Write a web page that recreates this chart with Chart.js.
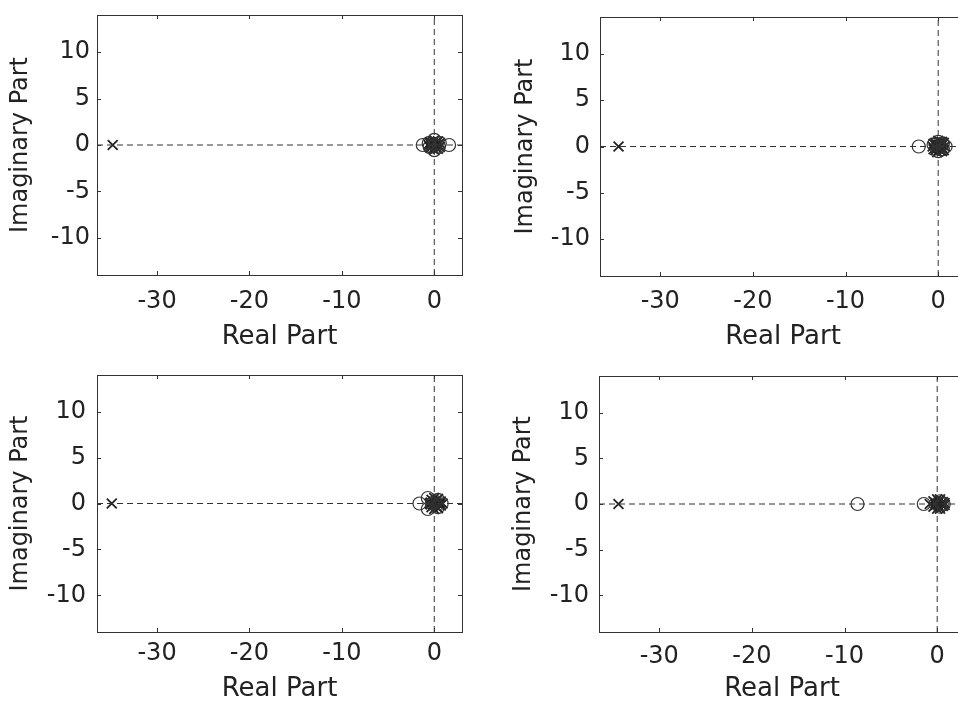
<!DOCTYPE html>
<html>
<head>
<meta charset="utf-8">
<script src="https://cdn.jsdelivr.net/npm/chart.js@4.4.0/dist/chart.umd.min.js"></script>
<style>
  html, body { margin: 0; padding: 0; background: #fff; overflow: hidden; width: 958px; height: 705px; }
  canvas { position: absolute; }
</style>
</head>
<body>
<canvas id="pz1" width="480" height="355" style="left:0;top:0"></canvas>
<canvas id="pz2" width="490" height="355" style="left:500px;top:0"></canvas>
<canvas id="pz3" width="480" height="345" style="left:0;top:360px"></canvas>
<canvas id="pz4" width="490" height="345" style="left:500px;top:360px"></canvas>
<script>
// axis limits and tick labels shared by every map
const realMin = -36.5, realMax = 3;
const imagMin = -14, imagMax = 14;
const realTicks = [-30, -20, -10, 0];
const imagTicks = [-10, -5, 0, 5, 10];

// poles (x) and zeros (o) as [real, imag]
const poles1 = [[-34.8, 0], [-0.6, 0], [-0.4, 0.3], [-0.4, -0.3], [-0.2, 0], [0, 0], [0.2, 0.3], [0.2, -0.3],
  [0.4, 0], [0.6, 0.2], [0.6, -0.2], [0, 0.5], [0, -0.5], [-0.2, 0.2], [0.3, 0], [-0.3, 0.1], [-0.3, -0.1],
  [0.1, 0.15], [0.1, -0.15], [-0.1, 0.4], [-0.1, -0.4], [0.4, 0.4], [0.4, -0.4], [-0.5, 0.2], [-0.5, -0.2]];
const zeros1 = [[-1.25, 0], [1.6, 0], [0, 0.55], [0, -0.55], [-0.6, 0.2], [0.6, 0.2], [-0.5, -0.2], [0.5, -0.2], [0.1, 0]];

const poles2 = [[-34.5, 0], [-0.6, 0], [-0.3, 0.4], [-0.3, -0.4], [0, 0], [0.2, 0.5], [0.2, -0.4], [0.5, 0.2],
  [0.5, -0.2], [0.7, 0], [0, 0.6], [-0.1, -0.6], [0.3, 0], [-0.2, 0.1], [-0.2, -0.1], [0.1, 0.2], [0.1, -0.2],
  [0.4, 0.5], [0.4, -0.5], [0.6, 0.4], [0.6, -0.4], [-0.5, 0.3], [-0.5, -0.3]];
const zeros2 = [[-2.1, 0], [-0.5, 0.2], [0, 0.5], [0, -0.5], [0.5, 0.3], [0.5, -0.3], [0.2, 0], [0.8, 0]];

const poles3 = [[-34.9, 0], [-0.5, 0], [-0.3, 0.4], [-0.3, -0.4], [0, 0], [0.2, 0.3], [0.2, -0.3], [0.5, 0],
  [0.7, 0.2], [0.7, -0.2], [0, 0.6], [0, -0.6], [0.3, 0], [-0.1, 0.2], [-0.1, -0.2], [0.4, 0.5], [0.4, -0.5],
  [0.9, 0], [0.6, 0.1], [0.6, -0.1], [-0.4, 0.1], [-0.4, -0.1]];
const zeros3 = [[-1.6, 0], [-0.7, 0.6], [-0.7, -0.6], [0.8, 0], [0.4, 0.4], [0.4, -0.4], [-0.2, 0], [0.1, 0.2]];

const poles4 = [[-34.4, 0], [-0.8, 0], [-0.4, 0.3], [-0.4, -0.3], [0, 0], [0.2, 0.3], [0.2, -0.3], [0.4, 0],
  [0.6, 0.2], [0.6, -0.2], [0, 0.5], [0, -0.5], [-0.2, 0.1], [-0.2, -0.1], [0.3, 0.5], [0.3, -0.5],
  [0.8, 0.1], [0.8, -0.1], [0.1, 0.1], [0.1, -0.1]];
const zeros4 = [[-8.6, 0], [-1.45, 0], [0.5, 0], [0.3, 0.3], [0.3, -0.3], [0.7, 0]];

const ink = '#222';
const font = 'DejaVu Sans';

// frame round the plot area with small inward tick marks on all four sides
const boxPlugin = {
  id: 'box',
  afterDatasetsDraw(chart) {
    const { ctx, chartArea: a, scales } = chart;
    ctx.save();
    ctx.strokeStyle = '#333';
    ctx.lineWidth = 1;
    ctx.strokeRect(a.left + 0.5, a.top + 0.5, a.right - a.left, a.bottom - a.top);
    ctx.beginPath();
    realTicks.forEach(v => {
      const px = Math.round(scales.x.getPixelForValue(v)) + 0.5;
      ctx.moveTo(px, a.top); ctx.lineTo(px, a.top + 4);
      ctx.moveTo(px, a.bottom); ctx.lineTo(px, a.bottom - 4);
    });
    imagTicks.forEach(v => {
      const py = Math.round(scales.y.getPixelForValue(v)) + 0.5;
      ctx.moveTo(a.left, py); ctx.lineTo(a.left + 4, py);
      ctx.moveTo(a.right, py); ctx.lineTo(a.right - 4, py);
    });
    ctx.stroke();
    ctx.restore();
  }
};

function toPoints(list) {
  return list.map(p => ({ x: p[0], y: p[1] }));
}

function pzmap(id, poles, zeros, g) {
  new Chart(document.getElementById(id), {
    type: 'scatter',
    data: {
      datasets: [
        {
          type: 'line',
          data: [{ x: realMin, y: 0 }, { x: realMax, y: 0 }],
          borderColor: '#333', borderWidth: 1, borderDash: [6, 4], pointRadius: 0
        },
        {
          type: 'line',
          data: [{ x: 0, y: imagMin }, { x: 0, y: imagMax }],
          borderColor: '#333', borderWidth: 1, borderDash: [6, 4], pointRadius: 0
        },
        {
          data: toPoints(zeros),
          pointStyle: 'circle', pointRadius: 6.5,
          borderColor: '#333', borderWidth: 1.2, backgroundColor: 'rgba(0,0,0,0)'
        },
        {
          data: toPoints(poles),
          pointStyle: 'crossRot', pointRadius: 7,
          borderColor: ink, borderWidth: 1.8
        }
      ]
    },
    options: {
      responsive: false,
      animation: false,
      devicePixelRatio: 1,
      layout: { padding: { left: 0, top: g.top, right: g.right, bottom: 0 } },
      plugins: { legend: { display: false }, tooltip: { enabled: false } },
      scales: {
        x: {
          type: 'linear', min: realMin, max: realMax,
          afterBuildTicks: s => { s.ticks = realTicks.map(v => ({ value: v })); },
          afterFit: s => { s.height = g.xh; s.paddingLeft = 0; s.paddingRight = 0; },
          grid: { display: false, drawTicks: false },
          border: { display: false },
          ticks: { color: ink, font: { family: font, size: 24 }, padding: g.xpad, autoSkip: false, maxRotation: 0 },
          title: { display: true, text: 'Real Part', color: ink, font: { family: font, size: 26 }, padding: { top: 0, bottom: g.xtpad } }
        },
        y: {
          type: 'linear', min: imagMin, max: imagMax,
          afterBuildTicks: s => { s.ticks = imagTicks.map(v => ({ value: v })); },
          afterFit: s => { s.width = g.yw; s.paddingTop = 0; s.paddingBottom = 0; },
          grid: { display: false, drawTicks: false },
          border: { display: false },
          ticks: { color: ink, font: { family: font, size: 24 }, padding: g.ypad, autoSkip: false },
          title: { display: true, text: 'Imaginary Part', color: ink, font: { family: font, size: 24 }, padding: { top: g.ytpad, bottom: 0 } }
        }
      }
    },
    plugins: [boxPlugin]
  });
}

pzmap('pz1', poles1, zeros1, { top: 15, right: 18, xh: 80, yw: 97, xpad: 12, xtpad: 2, ypad: 7, ytpad: 6 });
pzmap('pz2', poles2, zeros2, { top: 17, right: 24, xh: 79, yw: 100, xpad: 11, xtpad: 2, ypad: 10, ytpad: 11 });
pzmap('pz3', poles3, zeros3, { top: 15, right: 18, xh: 73, yw: 97, xpad: 7, xtpad: 0, ypad: 11, ytpad: 6 });
pzmap('pz4', poles4, zeros4, { top: 16, right: 25, xh: 73, yw: 99, xpad: 10, xtpad: 0, ypad: 10, ytpad: 9 });
</script>
</body>
</html>
